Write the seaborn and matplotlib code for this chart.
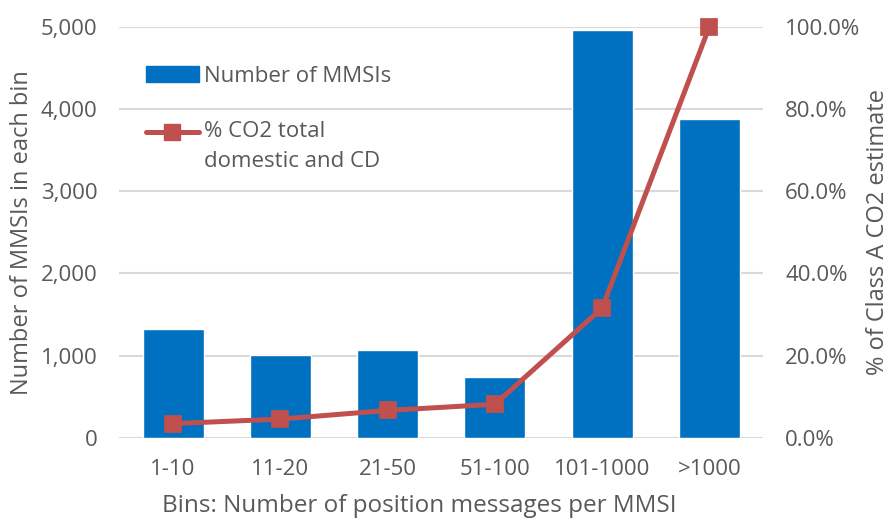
import pandas as pd
import matplotlib.pyplot as plt
import seaborn as sns
from matplotlib.lines import Line2D
from matplotlib.patches import Patch
from matplotlib.legend_handler import HandlerLine2D
from matplotlib.ticker import FuncFormatter

# Data
bins = ['1-10', '11-20', '21-50', '51-100', '101-1000', '>1000']
n_mmsi = [1330, 1012, 1073, 740, 4958, 3873]
pct_co2 = [3.5, 4.6, 6.7, 8.2, 31.6, 100.0]

df = pd.DataFrame({'Bin': bins, 'MMSIs': n_mmsi, 'CO2': pct_co2})

sns.set_style('white')
plt.rcParams['font.family'] = ['Open Sans', 'DejaVu Sans']
text_col = '#595959'
grid_col = '#d9d9d9'
bar_col = '#0070c0'
line_col = '#c0504d'


# legend handler that puts the line level with the first text line
class FirstLineHandler(HandlerLine2D):
    def create_artists(self, *args, **kwargs):
        arts = super().create_artists(*args, **kwargs)
        for a in arts:
            a.set_ydata([y + 11 for y in a.get_ydata()])
        return arts


fig = plt.figure(figsize=(8.92, 5.2), dpi=100)
ax = fig.add_axes([0.1339, 0.1577, 0.7215, 0.791])

sns.barplot(data=df, x='Bin', y='MMSIs', color=bar_col, width=0.57,
            saturation=1, ax=ax, zorder=2)
ax.set_ylim(0, 5000)
ax.set_yticks(range(0, 5001, 1000))
ax.yaxis.set_major_formatter(FuncFormatter(lambda v, p: f'{int(v):,}'))
ax.grid(axis='y', color=grid_col, lw=1.5, zorder=0)
ax.set_axisbelow(True)
for s in ax.spines.values():
    s.set_visible(False)
ax.tick_params(length=0, labelsize=16, colors=text_col, pad=16)
ax.tick_params(axis='x', pad=15)
ax.set_xlabel('Bins: Number of position messages per MMSI', fontsize=17.5,
              color=text_col)
ax.xaxis.set_label_coords(0.4655, -0.135)
ax.set_ylabel('Number of MMSIs in each bin', fontsize=17, color=text_col,
              labelpad=5)

ax2 = ax.twinx()
sns.pointplot(data=df, x='Bin', y='CO2', color=line_col, markers='s',
              markersize=10.5, linewidth=3.6, ax=ax2)
for ln in ax2.lines:
    ln.set_clip_on(False)
ax2.set_ylim(0, 100)
ax2.set_yticks(range(0, 101, 20))
ax2.yaxis.set_major_formatter(FuncFormatter(lambda v, p: f'{v:.1f}%'))
for s in ax2.spines.values():
    s.set_visible(False)
ax2.tick_params(length=0, labelsize=16, colors=text_col, pad=16)
ax2.set_ylabel('% of Class A CO2 estimate', fontsize=17, color=text_col,
               labelpad=4)
ax2.set_xlabel('')

co2_handle = Line2D([0], [0], color=line_col, lw=3.6, marker='s', markersize=12)
handles = [Patch(color=bar_col), co2_handle]
labels = ['Number of MMSIs', '% CO2 total\ndomestic and CD']
leg = ax2.legend(handles, labels, loc='upper left',
                 bbox_to_anchor=(0.041, 0.905), frameon=False, fontsize=16,
                 labelcolor=text_col, handlelength=2.4, handletextpad=0.2,
                 labelspacing=1.55, borderpad=0, borderaxespad=0,
                 handler_map={co2_handle: FirstLineHandler()})
leg.get_texts()[1].set_linespacing(1.55)

fig.savefig('out.png', dpi=100)
